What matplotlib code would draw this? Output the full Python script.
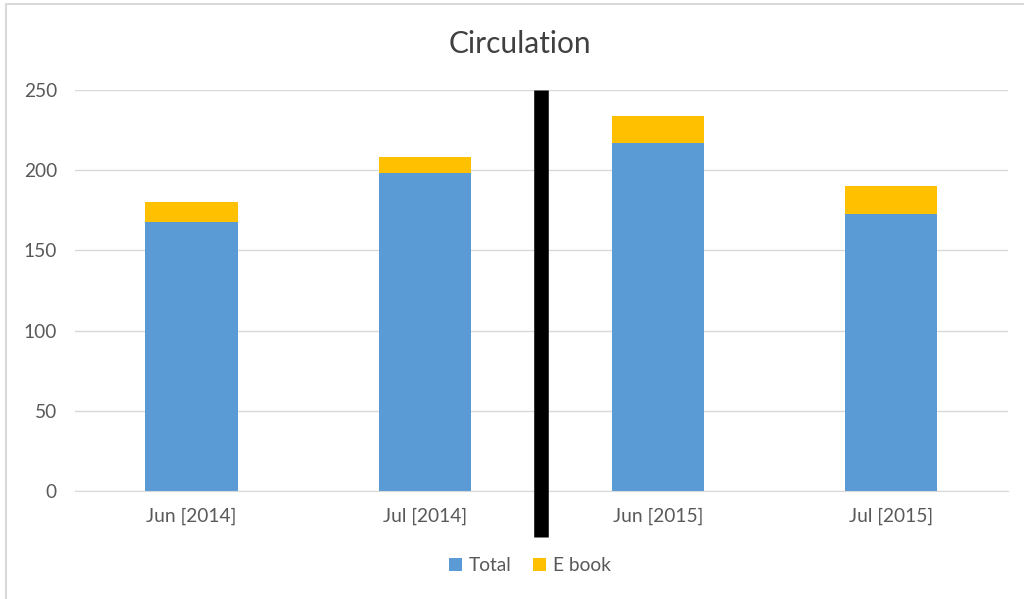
import matplotlib.pyplot as plt
from matplotlib.patches import Rectangle

# data
months = ['Jun [2014]', 'Jul [2014]', 'Jun [2015]', 'Jul [2015]']
total = [168, 198, 217, 173]
ebook = [12, 10, 17, 17]

plt.rcParams['font.family'] = ['Lato', 'DejaVu Sans']

fig = plt.figure(figsize=(10.24, 5.99), dpi=100)
ax = fig.add_axes([0.0732, 0.1803, 0.9108, 0.6694])

x = range(len(months))
ax.bar(x, total, width=0.395, color='#5b9bd5', label='Total', zorder=2)
ax.bar(x, ebook, width=0.395, bottom=total, color='#ffc000', label='E book', zorder=2)

# black divider between 2014 and 2015
ax.plot([1.5, 1.5], [-28.5, 250], color='black', lw=10.5, solid_capstyle='butt',
        clip_on=False, zorder=3)

ax.set_xlim(-0.5, 3.5)
ax.set_ylim(0, 250)
ax.set_yticks([0, 50, 100, 150, 200, 250])
ax.set_xticks(list(x))
ax.set_xticklabels(months)
ax.yaxis.grid(True, color='#d9d9d9', lw=1)
ax.set_axisbelow(True)
for s in ax.spines.values():
    s.set_visible(False)
ax.spines['bottom'].set_visible(True)
ax.spines['bottom'].set_color('#d9d9d9')
ax.tick_params(length=0, labelsize=13.8, colors='#595959')
ax.tick_params(axis='x', pad=12)
ax.tick_params(axis='y', pad=13)

fig.text(0.508, 0.927, 'Circulation', ha='center', va='center', fontsize=21.5, color='#404040')

ax.legend(loc='center', bbox_to_anchor=(0.488, -0.186), ncol=2, frameon=False,
          fontsize=13.8, labelcolor='#595959', handlelength=0.65, handleheight=0.65,
          handletextpad=0.4, columnspacing=1.1)

# light frame around chart area
fig.patches.append(Rectangle((0.0063, -0.01), 1.5, 1.003, transform=fig.transFigure,
                             fill=False, edgecolor='#d9d9d9', lw=1.5))

fig.savefig('out.png', dpi=100)
